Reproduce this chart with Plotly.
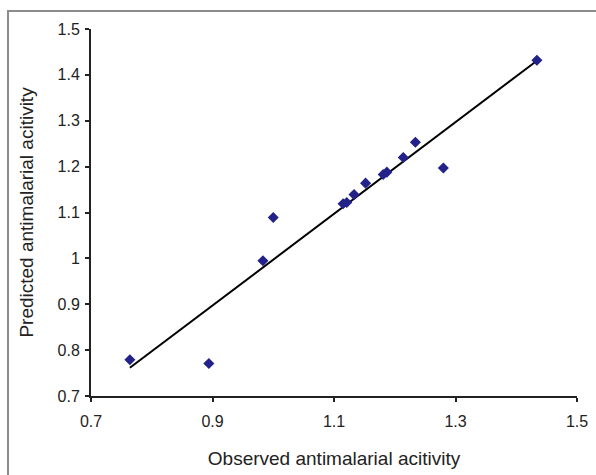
import numpy as np
import plotly.graph_objects as go

observed = [0.764, 0.894, 0.983, 1.000, 1.115, 1.121, 1.133, 1.152, 1.181, 1.187, 1.214, 1.234, 1.280, 1.434]
predicted = [0.779, 0.771, 0.995, 1.089, 1.119, 1.122, 1.139, 1.164, 1.183, 1.188, 1.220, 1.253, 1.197, 1.432]
x_ticks = [0.7, 0.9, 1.1, 1.3, 1.5]
y_ticks = [0.7, 0.8, 0.9, 1.0, 1.1, 1.2, 1.3, 1.4, 1.5]
y_tick_labels = ["0.7", "0.8", "0.9", "1", "1.1", "1.2", "1.3", "1.4", "1.5"]

slope, intercept = np.polyfit(observed, predicted, 1)
trend_x = [min(observed), max(observed)]
trend_y = [slope * v + intercept for v in trend_x]

fig = go.Figure()
fig.add_trace(go.Scatter(x=trend_x, y=trend_y, mode="lines",
                         line=dict(color="black", width=2), hoverinfo="skip"))
fig.add_trace(go.Scatter(x=observed, y=predicted, mode="markers",
                         marker=dict(symbol="diamond", size=8.5, color="#22228A")))

fam = "Liberation Sans, Arial, sans-serif"
font = dict(family=fam, size=15.5, color="#222")
fig.update_layout(
    width=596, height=475,
    margin=dict(l=91, r=19, t=29, b=79),
    paper_bgcolor="white", plot_bgcolor="white",
    showlegend=False,
    font=font,
    xaxis=dict(range=[0.7, 1.5], tickvals=x_ticks, ticktext=[str(v) for v in x_ticks],
               showgrid=False, zeroline=False, showline=True, linecolor="#222", linewidth=2,
               ticks="outside", ticklen=4, tickwidth=2, tickcolor="#222",
               ticklabelstandoff=6, automargin=False,
               title=dict(text="Observed antimalarial acitivity", standoff=22),
               tickfont=dict(family=fam, size=16, color="#222")),
    yaxis=dict(range=[0.7, 1.5], tickvals=y_ticks, ticktext=y_tick_labels,
               showgrid=False, zeroline=False, showline=True, linecolor="#222", linewidth=2,
               ticks="outside", ticklen=4, tickwidth=2, tickcolor="#222",
               ticklabelstandoff=2, automargin=False,
               title=dict(text="Predicted antimalarial acitivity", standoff=19),
               tickfont=dict(family=fam, size=16, color="#222")),
    shapes=[dict(type="rect", xref="paper", yref="paper",
                 x0=-0.1708, x1=1.2, y0=-0.4, y1=1.049,
                 line=dict(color="#8c8c8c", width=2), fillcolor="rgba(0,0,0,0)")],
)
fig.write_html("out.html", config={"displayModeBar": False},
               post_script="document.body.style.margin='0';")
